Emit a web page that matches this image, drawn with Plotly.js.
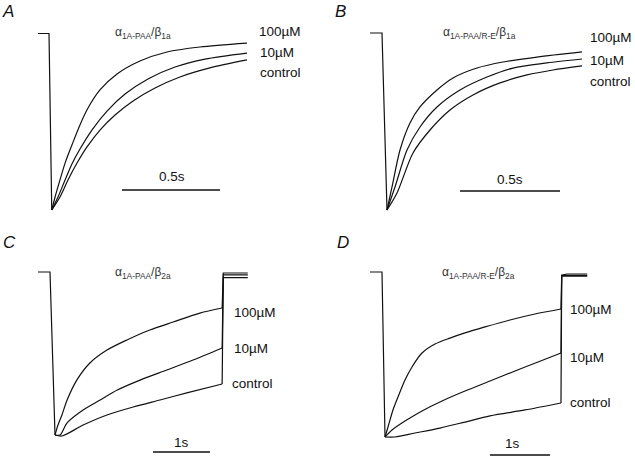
<!DOCTYPE html>
<html><head><meta charset="utf-8">
<script src="https://cdn.plot.ly/plotly-3.0.1.min.js"></script>
<style>html,body{margin:0;padding:0;background:#fff}#chart{width:635px;height:461px}</style>
</head><body><div id="chart"></div>
<script>
// ---- Data: time (s) from voltage step onset, current normalised to peak (0 = baseline, -1 = peak) ----
// Panel A  alpha1A-PAA / beta1a
const aStartT = [-0.056, 0, 0.014];
const aStartI = [0, 0, -0.994];
const a100T = [0.031, 0.056, 0.082, 0.117, 0.158, 0.199, 0.260, 0.347, 0.464, 0.602, 0.770, 1.010];
const a100I = [-0.921, -0.825, -0.730, -0.628, -0.515, -0.420, -0.318, -0.228, -0.155, -0.104, -0.076, -0.054];
const a10T  = [0.046, 0.082, 0.117, 0.158, 0.219, 0.296, 0.388, 0.505, 0.643, 0.796, 1.010];
const a10I  = [-0.921, -0.825, -0.735, -0.651, -0.544, -0.437, -0.341, -0.256, -0.189, -0.144, -0.110];
const aCtlT = [0.056, 0.097, 0.143, 0.194, 0.260, 0.337, 0.429, 0.541, 0.668, 0.821, 1.010];
const aCtlI = [-0.921, -0.825, -0.730, -0.639, -0.544, -0.459, -0.380, -0.307, -0.245, -0.194, -0.149];

// Panel B  alpha1A-PAA/R-E / beta1a
const bStartT = [-0.06, 0, 0.025];
const bStartI = [0, 0, -1];
const b100T = [0.05, 0.09, 0.14, 0.19, 0.275, 0.355, 0.475, 0.605, 0.775, 1.0];
const b100I = [-0.870, -0.661, -0.508, -0.418, -0.322, -0.254, -0.198, -0.164, -0.136, -0.107];
const b10T  = [0.065, 0.125, 0.19, 0.275, 0.39, 0.525, 0.655, 0.825, 1.0];
const b10I  = [-0.870, -0.661, -0.531, -0.418, -0.322, -0.249, -0.198, -0.169, -0.147];
const bCtlT = [0.075, 0.155, 0.24, 0.34, 0.455, 0.59, 0.725, 0.855, 1.0];
const bCtlI = [-0.904, -0.678, -0.548, -0.435, -0.350, -0.282, -0.237, -0.209, -0.186];

// Panel C  alpha1A-PAA / beta2a  (decay during the pulse, then tail after repolarisation)
const cStartT = [-0.21, 0, 0.088];
const cStartI = [0, 0, -1];
const c100T = [0.14, 0.21, 0.30, 0.47, 0.70, 1.0, 1.35, 1.75, 2.16, 2.63, 3.02];
const c100I = [-0.939, -0.877, -0.785, -0.663, -0.558, -0.479, -0.417, -0.356, -0.307, -0.252, -0.221];
const c10T  = [0.175, 0.30, 0.58, 0.88, 1.18, 1.58, 2.05, 2.51, 3.02];
const c10I  = [-1.0, -0.926, -0.847, -0.785, -0.724, -0.663, -0.601, -0.540, -0.466];
const cCtlT = [0.21, 0.58, 1.0, 1.46, 1.93, 2.40, 3.02];
const cCtlI = [-1.006, -0.939, -0.877, -0.828, -0.785, -0.742, -0.687];
const cTailT = [3.04, 3.10, 3.47];
const c100Tail = [-0.006, -0.006, -0.006];
const c10Tail  = [-0.018, -0.018, -0.018];
const cCtlTail = [-0.035, -0.035, -0.035];

// Panel D  alpha1A-PAA/R-E / beta2a
const dStartT = [-0.2, 0, 0.05];
const dStartI = [0, 0, -0.994];
const d100T = [0.1, 0.183, 0.267, 0.383, 0.5, 0.667, 0.883, 1.133, 1.383, 1.717, 2.133, 2.55, 2.983];
const d100I = [-0.934, -0.831, -0.753, -0.651, -0.572, -0.488, -0.434, -0.398, -0.367, -0.331, -0.289, -0.253, -0.223];
const d10T  = [0.167, 0.383, 0.667, 1.0, 1.383, 1.8, 2.217, 2.6, 2.983];
const d10I  = [-0.952, -0.898, -0.837, -0.777, -0.717, -0.657, -0.596, -0.542, -0.488];
const dCtlT = [0.217, 0.55, 0.967, 1.383, 1.8, 2.383, 2.983];
const dCtlI = [-0.994, -0.970, -0.940, -0.904, -0.867, -0.831, -0.789];
const dTailT = [2.995, 3.08, 3.42];
const d100Tail = [-0.02, -0.012, -0.012];
const d10Tail  = [-0.02, -0.02, -0.02];
const dCtlTail = [-0.025, -0.025, -0.025];

const labels = ['100\u00B5M', '10\u00B5M', 'control'];
const panelLetters = ['A', 'B', 'C', 'D'];
const panelTitles = [
  '\u03B1<sub>1A-PAA</sub>/\u03B2<sub>1a</sub>',
  '\u03B1<sub>1A-PAA/R-E</sub>/\u03B2<sub>1a</sub>',
  '\u03B1<sub>1A-PAA</sub>/\u03B2<sub>2a</sub>',
  '\u03B1<sub>1A-PAA/R-E</sub>/\u03B2<sub>2a</sub>'
];
const scaleLabels = ['0.5s', '0.5s', '1s', '1s'];
const scaleLengths = [0.5, 0.5, 1, 1];

// ---- Layout helpers ----
const W = 635, H = 461;
const fx = p => p / W, fy = p => 1 - p / H;
// pixel calibration for each panel: pixel of t=0, px per second, pixel of I=0, px per unit current
const cal = [
  {x0: 49,  sx: 196, y0: 33.5, sy: 177.5},
  {x0: 382, sx: 200, y0: 33,   sy: 177},
  {x0: 50,  sx: 57,  y0: 272,  sy: 163},
  {x0: 382, sx: 60,  y0: 272,  sy: 166}
];
const panels = [
  {start: [aStartT, aStartI], decay: [[a100T, a100I], [a10T, a10I], [aCtlT, aCtlI]], tail: null},
  {start: [bStartT, bStartI], decay: [[b100T, b100I], [b10T, b10I], [bCtlT, bCtlI]], tail: null},
  {start: [cStartT, cStartI], decay: [[c100T, c100I], [c10T, c10I], [cCtlT, cCtlI]], tail: [cTailT, [c100Tail, c10Tail, cCtlTail]]},
  {start: [dStartT, dStartI], decay: [[d100T, d100I], [d10T, d10I], [dCtlT, dCtlI]], tail: [dTailT, [d100Tail, d10Tail, dCtlTail]]}
];
const traces = [];
const layout = {
  width: W, height: H, margin: {l: 0, r: 0, t: 0, b: 0},
  paper_bgcolor: '#fff', plot_bgcolor: 'rgba(0,0,0,0)', showlegend: false,
  font: {family: 'Liberation Sans, Arial, sans-serif', color: '#111'},
  annotations: [], shapes: []
};
const letterPos = [[8, 11], [340, 12], [9, 242], [343, 242]];
const titlePos = [[113, 33], [441, 33], [113, 273], [440, 273]];
const labelPos = [
  [[257, 32], [258, 53], [258, 73]],
  [[588, 38], [588, 60], [588, 82]],
  [[232, 312], [232, 348], [230, 383]],
  [[568, 309], [568, 357], [568, 402]]
];
const barPx = [[122, 190, 172, 176], [460, 191, 510, 180], [153, 452, 181, 442], [490, 455, 512, 443]];
const lineStyle = {color: '#111', width: 1.2};

function ann(x, y, text, size, color, xanchor) {
  return {xref: 'paper', yref: 'paper', x: fx(x), y: fy(y), xanchor: xanchor || 'center', yanchor: 'middle',
    text: text, showarrow: false, font: {size: size, color: color}};
}

panels.forEach((pn, p) => {
  const c = cal[p];
  const sfx = p === 0 ? '' : String(p + 1);
  const xa = 'x' + sfx, ya = 'y' + sfx;
  layout['xaxis' + sfx] = {domain: [0, 1], range: [(0 - c.x0) / c.sx, (W - c.x0) / c.sx], visible: false, anchor: ya, fixedrange: true};
  layout['yaxis' + sfx] = {domain: [0, 1], range: [-(H - c.y0) / c.sy, c.y0 / c.sy], visible: false, anchor: xa, fixedrange: true};
  const sT = pn.start[0], sI = pn.start[1];
  traces.push({x: sT, y: sI, xaxis: xa, yaxis: ya, type: 'scatter', mode: 'lines', line: lineStyle, hoverinfo: 'skip'});
  pn.decay.forEach(([t, i], k) => {
    const xs = [sT[sT.length - 1]].concat(t), ys = [sI[sI.length - 1]].concat(i);
    traces.push({x: xs, y: ys, xaxis: xa, yaxis: ya, type: 'scatter', mode: 'lines',
      line: Object.assign({shape: 'spline', smoothing: 0.8}, lineStyle), hoverinfo: 'skip'});
    if (pn.tail) {
      const tt = pn.tail[0], ti = pn.tail[1][k];
      traces.push({x: [t[t.length - 1]].concat(tt), y: [i[i.length - 1]].concat(ti), xaxis: xa, yaxis: ya,
        type: 'scatter', mode: 'lines', line: lineStyle, hoverinfo: 'skip'});
    }
  });
  layout.annotations.push(ann(letterPos[p][0], letterPos[p][1], '<i>' + panelLetters[p] + '</i>', 17, '#111'));
  layout.annotations.push(ann(titlePos[p][0], titlePos[p][1], panelTitles[p], 12, '#333', 'left'));
  labels.forEach((lab, k) => {
    layout.annotations.push(ann(labelPos[p][k][0], labelPos[p][k][1], lab, 13.5, '#111', 'left'));
  });
  const b = barPx[p];
  const t0 = (b[0] - c.x0) / c.sx, yb = -(b[1] - c.y0) / c.sy;
  layout.shapes.push({type: 'line', xref: xa, yref: ya, x0: t0, x1: t0 + scaleLengths[p], y0: yb, y1: yb,
    line: {color: '#111', width: 1.5}});
  layout.annotations.push(ann(b[2], b[3], scaleLabels[p], 13.5, '#111'));
});
Plotly.newPlot('chart', traces, layout, {displayModeBar: false, staticPlot: true});
</script></body></html>
